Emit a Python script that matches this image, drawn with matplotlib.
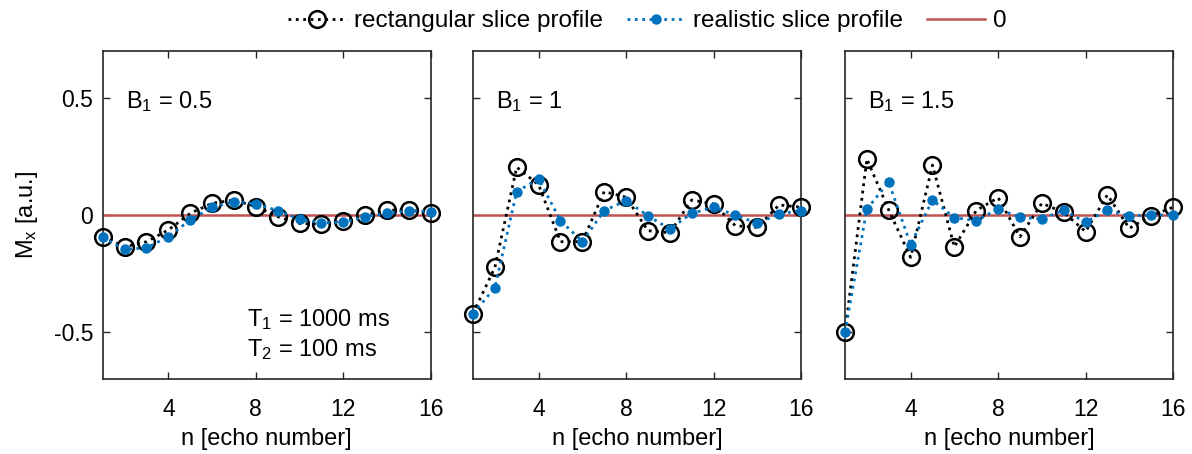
import numpy as np
import matplotlib
matplotlib.use("Agg")
import matplotlib.pyplot as plt

plt.rcParams['font.family'] = ['Liberation Sans', 'DejaVu Sans']
plt.rcParams['mathtext.fontset'] = 'custom'
plt.rcParams['mathtext.rm'] = 'Liberation Sans'
plt.rcParams['mathtext.it'] = 'Liberation Sans:italic'

n = np.arange(1, 17)

# B1 = 0.5
rect_05 = [-0.093, -0.136, -0.114, -0.064, 0.007, 0.050, 0.064, 0.036,
           -0.007, -0.036, -0.039, -0.024, 0.000, 0.021, 0.021, 0.010]
real_05 = [-0.096, -0.147, -0.140, -0.093, -0.021, 0.033, 0.057, 0.047,
           0.019, -0.019, -0.033, -0.031, -0.007, 0.007, 0.019, 0.014]
# B1 = 1
rect_10 = [-0.421, -0.224, 0.204, 0.129, -0.114, -0.114, 0.100, 0.076,
           -0.067, -0.076, 0.064, 0.047, -0.046, -0.053, 0.043, 0.033]
real_10 = [-0.421, -0.311, 0.100, 0.154, -0.024, -0.114, 0.019, 0.061,
           -0.003, -0.060, 0.007, 0.033, 0.000, -0.036, 0.004, 0.019]
# B1 = 1.5
rect_15 = [-0.500, 0.239, 0.021, -0.181, 0.213, -0.136, 0.019, 0.074,
           -0.093, 0.050, 0.011, -0.071, 0.086, -0.057, -0.003, 0.033]
real_15 = [-0.500, 0.026, 0.140, -0.126, 0.064, -0.011, -0.024, 0.026,
           -0.010, -0.017, 0.021, -0.031, 0.021, -0.004, 0.000, 0.000]

b1_labels = ['B$_1$ = 0.5', 'B$_1$ = 1', 'B$_1$ = 1.5']
rect_all = [rect_05, rect_10, rect_15]
real_all = [real_05, real_10, real_15]

blue = '#0072BD'
red = '#BF5252'
fs_tick = 16.5
fs_lab = 17
fs_txt = 17

fig = plt.figure(figsize=(11.92, 4.54), dpi=100)
lefts = [0.0862, 0.3968, 0.7089]
axes = [fig.add_axes([l, 0.1652, 0.2752, 0.7225]) for l in lefts]

for i, ax in enumerate(axes):
    l1, = ax.plot(n, rect_all[i], ':', color='black', lw=2, marker='o',
                  ms=12, mfc='none', mec='black', mew=1.8, zorder=3,
                  clip_on=False, label='rectangular slice profile')
    l2, = ax.plot(n, real_all[i], ':', color=blue, lw=2, marker='o',
                  ms=6.5, mfc=blue, mec=blue, zorder=4, clip_on=False,
                  label='realistic slice profile')
    l3, = ax.plot(n, np.zeros(len(n)), '-', color=red, lw=1.8, zorder=2,
                  label='0')
    ax.set_xlim(1, 16)
    ax.set_ylim(-0.7, 0.7)
    ax.set_xticks([4, 8, 12, 16])
    ax.set_yticks([-0.5, 0, 0.5])
    ax.tick_params(direction='in', top=True, right=True, labelsize=fs_tick,
                   length=5, width=1, color='#262626')
    ax.tick_params(axis='x', pad=14)
    ax.tick_params(axis='y', pad=7)
    for s in ax.spines.values():
        s.set_linewidth(1.2)
        s.set_color('#262626')
    ax.set_xlabel('n [echo number]', fontsize=fs_lab, labelpad=5)
    ax.text(0.07, 0.845, b1_labels[i], transform=ax.transAxes,
            fontsize=fs_txt, ha='left', va='center')
    if i == 0:
        ax.set_yticklabels(['-0.5', '0', '0.5'])
        ax.set_ylabel('M$_\\mathrm{x}$ [a.u.]', fontsize=fs_lab, labelpad=10)
        ax.text(0.875, 0.135, 'T$_1$ = 1000 ms\nT$_2$ = 100 ms',
                transform=ax.transAxes, fontsize=fs_txt, ha='right',
                va='center', multialignment='left', linespacing=1.25)
    else:
        ax.set_yticklabels([])

fig.legend(handles=[l1, l2, l3], loc='center',
           bbox_to_anchor=(0.543, 0.953), ncol=3, frameon=False,
           fontsize=17.5, handlelength=2.4, columnspacing=1.0,
           handletextpad=0.3, borderpad=0)

fig.savefig('out.png', dpi=100)
